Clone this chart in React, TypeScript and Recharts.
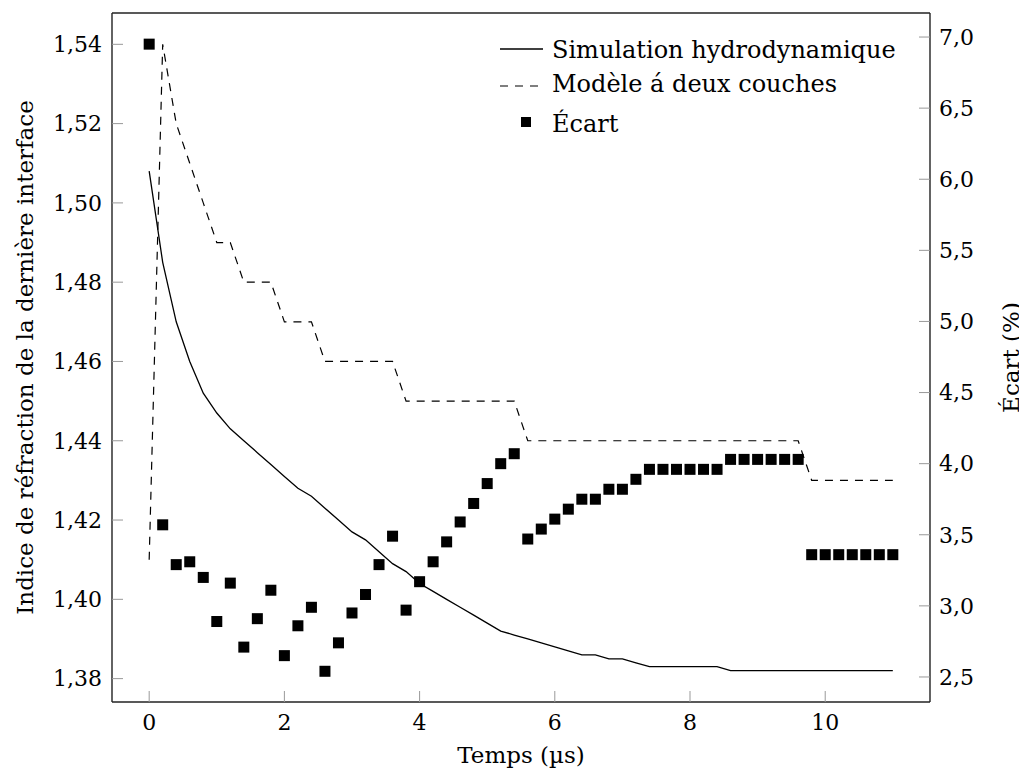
import React from "react";
import {
  ComposedChart,
  Line,
  Scatter,
  XAxis,
  YAxis,
  Legend,
  ReferenceLine,
} from "recharts";

// temps (µs)
const times = [
  0, 0.2, 0.4, 0.6, 0.8, 1.0, 1.2, 1.4, 1.6, 1.8, 2.0, 2.2, 2.4, 2.6, 2.8,
  3.0, 3.2, 3.4, 3.6, 3.8, 4.0, 4.2, 4.4, 4.6, 4.8, 5.0, 5.2, 5.4, 5.6, 5.8,
  6.0, 6.2, 6.4, 6.6, 6.8, 7.0, 7.2, 7.4, 7.6, 7.8, 8.0, 8.2, 8.4, 8.6, 8.8,
  9.0, 9.2, 9.4, 9.6, 9.8, 10.0, 10.2, 10.4, 10.6, 10.8, 11.0,
];

// Simulation hydrodynamique (axe gauche)
const simulation = [
  1.508, 1.485, 1.47, 1.46, 1.452, 1.447, 1.443, 1.44, 1.437, 1.434, 1.431,
  1.428, 1.426, 1.423, 1.42, 1.417, 1.415, 1.412, 1.409, 1.407, 1.404, 1.402,
  1.4, 1.398, 1.396, 1.394, 1.392, 1.391, 1.39, 1.389, 1.388, 1.387, 1.386,
  1.386, 1.385, 1.385, 1.384, 1.383, 1.383, 1.383, 1.383, 1.383, 1.383, 1.382,
  1.382, 1.382, 1.382, 1.382, 1.382, 1.382, 1.382, 1.382, 1.382, 1.382, 1.382,
  1.382,
];

// Modèle à deux couches (axe gauche)
const model = [
  1.41, 1.54, 1.52, 1.51, 1.5, 1.49, 1.49, 1.48, 1.48, 1.48, 1.47, 1.47, 1.47,
  1.46, 1.46, 1.46, 1.46, 1.46, 1.46, 1.45, 1.45, 1.45, 1.45, 1.45, 1.45, 1.45,
  1.45, 1.45, 1.44, 1.44, 1.44, 1.44, 1.44, 1.44, 1.44, 1.44, 1.44, 1.44, 1.44,
  1.44, 1.44, 1.44, 1.44, 1.44, 1.44, 1.44, 1.44, 1.44, 1.44, 1.43, 1.43, 1.43,
  1.43, 1.43, 1.43, 1.43,
];

// Écart (%) (axe droit)
const ecart = [
  6.95, 3.57, 3.29, 3.31, 3.2, 2.89, 3.16, 2.71, 2.91, 3.11, 2.65, 2.86, 2.99,
  2.54, 2.74, 2.95, 3.08, 3.29, 3.49, 2.97, 3.17, 3.31, 3.45, 3.59, 3.72, 3.86,
  4.0, 4.07, 3.47, 3.54, 3.61, 3.68, 3.75, 3.75, 3.82, 3.82, 3.89, 3.96, 3.96,
  3.96, 3.96, 3.96, 3.96, 4.03, 4.03, 4.03, 4.03, 4.03, 4.03, 3.36, 3.36, 3.36,
  3.36, 3.36, 3.36, 3.36,
];

const xTicks = [0, 2, 4, 6, 8, 10];
const leftTicks = [1.38, 1.4, 1.42, 1.44, 1.46, 1.48, 1.5, 1.52, 1.54];
const rightTicks = [2.5, 3, 3.5, 4, 4.5, 5, 5.5, 6, 6.5, 7];

const X_DOMAIN = [-0.55, 11.55];
const LEFT_DOMAIN = [1.3741, 1.5479];
const RIGHT_DOMAIN = [2.324, 7.169];

const FONT = "'DejaVu Serif', serif";
const INK = "#000";
const AXIS = "#222";
const TICK = "#999";
const DASH = "8 7";

const rows = times.map((t, i) => ({
  t,
  sim: simulation[i],
  model: model[i],
  ecart: ecart[i],
}));

const comma = (digits: number) => (v: number) =>
  v.toFixed(digits).replace(".", ",");

const Square = (props: any) => {
  const { cx, cy } = props;
  if (cx == null || cy == null) return null;
  return <rect x={cx - 5.5} y={cy - 5.5} width={11} height={11} fill={INK} />;
};

const LegendBox = () => (
  <svg width={430} height={120} style={{ display: "block" }}>
    <g fontFamily={FONT} fontSize={24} fill={INK}>
      <line x1={20} x2={63} y1={24} y2={24} stroke={INK} strokeWidth={1.3} />
      <text x={72} y={33}>Simulation hydrodynamique</text>
      <line
        x1={20}
        x2={60}
        y1={61}
        y2={61}
        stroke={INK}
        strokeWidth={1.2}
        strokeDasharray={DASH}
      />
      <text x={72} y={67}>Modèle á deux couches</text>
      <rect x={41} y={92} width={10} height={10} fill={INK} />
      <text x={72} y={107}>Écart</text>
    </g>
  </svg>
);

const LeftTitle = (props: any) => {
  const vb = props.viewBox || { x: 0, y: 5, width: 104, height: 689 };
  const x = vb.x + 25;
  const y = vb.y + vb.height / 2;
  return (
    <text
      x={x}
      y={y}
      transform={`rotate(-90 ${x} ${y})`}
      textAnchor="middle"
      fontFamily={FONT}
      fontSize={23}
      fill={INK}
    >
      Indice de réfraction de la dernière interface
    </text>
  );
};

const RightTitle = (props: any) => {
  const vb = props.viewBox || { x: 922, y: 5, width: 97, height: 689 };
  const x = vb.x + 89;
  const y = vb.y + vb.height / 2;
  return (
    <text
      x={x}
      y={y}
      transform={`rotate(-90 ${x} ${y})`}
      textAnchor="middle"
      fontFamily={FONT}
      fontSize={23}
      fill={INK}
    >
      Écart (%)
    </text>
  );
};

const BottomTitle = (props: any) => {
  const vb = props.viewBox || { x: 104, y: 694, width: 818, height: 71 };
  return (
    <text
      x={vb.x + vb.width / 2}
      y={vb.y + 61}
      textAnchor="middle"
      fontFamily={FONT}
      fontSize={23}
      fill={INK}
    >
      Temps (µs)
    </text>
  );
};

export default function App() {
  const tickStyle = { fontFamily: FONT, fontSize: 22, fill: INK };
  return (
    <div style={{ width: 1019, height: 765, position: "relative" }}>
      <ComposedChart
        width={1019}
        height={765}
        data={rows}
        margin={{ top: 5, right: 0, bottom: 0, left: 0 }}
      >
        <XAxis
          dataKey="t"
          type="number"
          domain={X_DOMAIN}
          ticks={xTicks}
          allowDataOverflow
          height={71}
          tickSize={-11}
          tickMargin={23}
          tick={tickStyle}
          tickLine={{ stroke: TICK, strokeWidth: 1 }}
          axisLine={{ stroke: AXIS, strokeWidth: 1.4 }}
          label={<BottomTitle />}
        />
        <YAxis
          yAxisId="left"
          type="number"
          domain={LEFT_DOMAIN}
          ticks={leftTicks}
          allowDataOverflow
          width={104}
          tickSize={-11}
          tickMargin={21}
          tick={tickStyle}
          tickFormatter={comma(2)}
          tickLine={{ stroke: TICK, strokeWidth: 1 }}
          axisLine={{ stroke: AXIS, strokeWidth: 1.4 }}
          label={<LeftTitle />}
        />
        <YAxis
          yAxisId="right"
          orientation="right"
          type="number"
          domain={RIGHT_DOMAIN}
          ticks={rightTicks}
          allowDataOverflow
          width={97}
          tickSize={-11}
          tickMargin={20}
          tick={{ ...tickStyle, textAnchor: "start" }}
          tickFormatter={comma(1)}
          tickLine={{ stroke: TICK, strokeWidth: 1 }}
          axisLine={{ stroke: AXIS, strokeWidth: 1.4 }}
          label={<RightTitle />}
        />
        <ReferenceLine
          yAxisId="left"
          y={LEFT_DOMAIN[1]}
          stroke={AXIS}
          strokeWidth={1.4}
        />
        <Line
          yAxisId="left"
          type="linear"
          dataKey="sim"
          stroke={INK}
          strokeWidth={1.3}
          dot={false}
          isAnimationActive={false}
        />
        <Line
          yAxisId="left"
          type="linear"
          dataKey="model"
          stroke={INK}
          strokeWidth={1.2}
          strokeDasharray={DASH}
          dot={false}
          isAnimationActive={false}
        />
        <Scatter
          yAxisId="right"
          dataKey="ecart"
          shape={Square}
          isAnimationActive={false}
        />
        <Legend
          layout="vertical"
          align="center"
          verticalAlign="middle"
          wrapperStyle={{ top: 17, left: 472, width: 430, height: 120 }}
          content={LegendBox}
        />
      </ComposedChart>
    </div>
  );
}
